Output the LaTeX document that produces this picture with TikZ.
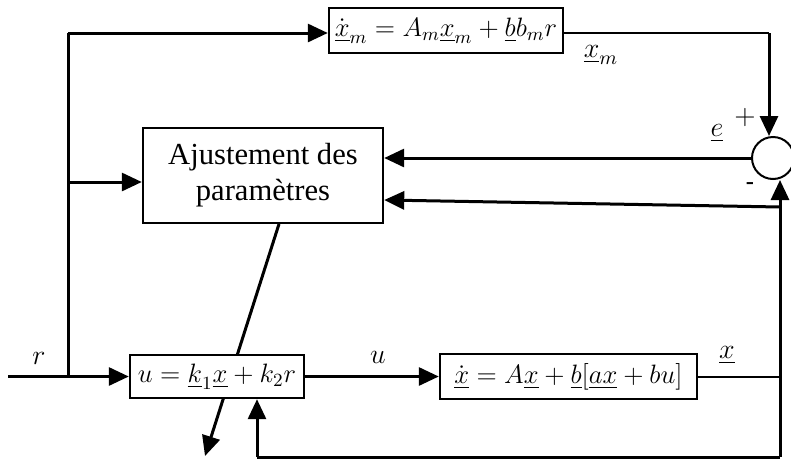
\RequirePackage{fix-cm}
\documentclass[tikz,border=0pt]{standalone}
\usepackage{amsmath}
\usepackage{fontspec}
\setmainfont{Liberation Serif}
\newfontfamily\signfont{Liberation Sans}
\usetikzlibrary{arrows.meta,positioning,calc}

\begin{document}
\begin{tikzpicture}[
    x=0.5pt, y=-0.5pt,
    every node/.style={font=\fontsize{14}{17}\selectfont},
    blk/.style={draw,line width=1.2pt,fill=white,inner sep=0.5pt,align=center,
                font=\fontsize{13.3}{16}\selectfont},
    sumnode/.style={draw,circle,line width=1pt,minimum size=21pt,inner sep=0pt},
    line/.style={-{Triangle[length=10pt,width=9pt]},line width=1.5pt},
    fline/.style={line width=1.5pt},
    tline/.style={line width=1pt},
    lbl/.style={inner sep=0pt}
]
\useasboundingbox (0,0) rectangle (791,461);

% Reference model
\node[blk,minimum width=117pt,minimum height=22.5pt] (MOD) at (446,30.5)
    {$\dot{\underline{x}}_m = A_m\underline{x}_m + \underline{b}b_m r$};

% Adjustment block
\node[blk,minimum width=120pt,minimum height=47.5pt,
      font=\fontsize{15.3}{18}\selectfont] (ADJ) at (263,175.5)
    {Ajustement des\\paramètres};

% Adjustment acting on the controller
\coordinate (DT) at (279,224);
\coordinate (DB) at (205,456);
\draw[line] (DT) -- (DB);

% Controller and plant
\node[blk,minimum width=87pt,minimum height=21.5pt] (CTRL) at (217,376.5)
    {$u = \underline{k}_1\underline{x} + k_2 r$};
\node[blk,minimum width=128.5pt,minimum height=22.5pt] (PLANT) at (568.5,376.5)
    {$\dot{\underline{x}} = A\underline{x} + \underline{b}[\underline{a}\underline{x} + bu]$};

% Comparator
\node[sumnode] (SUM) at (773,158) {};

% Input r and its branches
\coordinate (IN) at (8,376.5);
\coordinate (JR) at (68,376.5);
\coordinate (JT) at (68,33);
\coordinate (JA) at (68,182);
\draw[line] (IN) -- (CTRL.west);
\draw[fline] (JR) -- (JT);
\draw[line] (JT) -- (JT -| MOD.west);
\draw[line] (JA) -- (JA -| ADJ.west);

% Model output to comparator
\coordinate (CM) at (769,33);
\draw[tline] (MOD.east |- CM) -- (CM);
\draw[line] (CM) -- (CM |- SUM.north);

% Error to adjustment
\draw[line] (SUM.west) -- (SUM.west -| ADJ.east);

% Controller to plant
\draw[line] (CTRL.east) -- (PLANT.west);

% Plant state feedback
\coordinate (FR) at (780,457);
\coordinate (FA) at (780,207);
\coordinate (FC) at (257,457);
\draw[tline] (PLANT.east) -- (PLANT.east -| FR);
\draw[line] (FR) -- (FR |- SUM.south);
\draw[line] (FA) -- ($(ADJ.east)+(0,24.5)$);
\draw[fline] (FR) -- (FC);
\draw[line] (FC) -- (FC |- CTRL.south);

% Labels
\node[lbl] (LR) at (39,358) {$r$};
\node[lbl] (LU) at (378,357) {$u$};
\node[lbl] (LX) at (727,355) {$\underline{x}$};
\node[lbl] (LXM) at (601,55) {$\underline{x}_m$};
\node[lbl] (LE) at (717,133) {$\underline{e}$};
\node[lbl] (LP) at (745,117) {$+$};
\node[lbl,font=\signfont\fontsize{13}{15}\selectfont] (LM) at (750,187) {-};

\end{tikzpicture}
\end{document}
